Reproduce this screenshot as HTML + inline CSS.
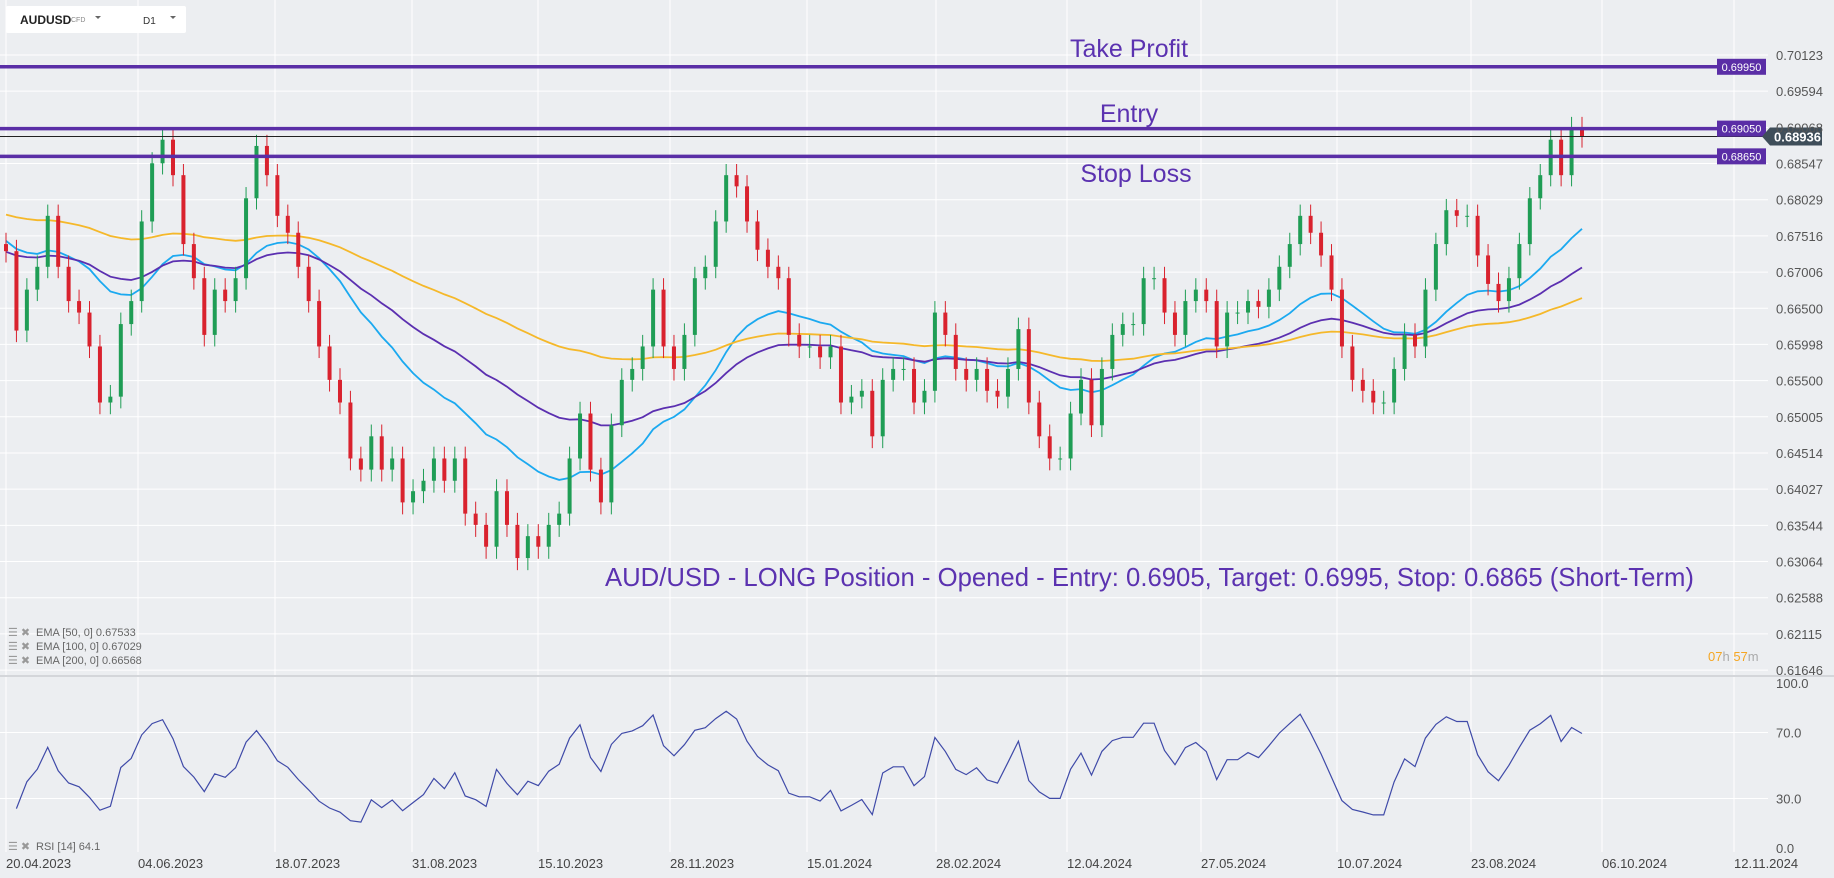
<!DOCTYPE html>
<html><head><meta charset="utf-8"><style>
body{margin:0;background:#eceef1;}
svg{display:block;font-family:"Liberation Sans",sans-serif;}
</style></head><body>
<svg id="chart" width="1834" height="878" viewBox="0 0 1834 878">
<rect x="0" y="0" width="1834" height="878" fill="#eceef1"/>
<g id="grid"></g>
<g id="ema"></g>
<g id="candles"></g>
<g id="levels"></g>
<g id="rsi"></g>
<g id="axes"></g>
<g>
<rect x="6" y="6" width="180" height="27" rx="2" fill="#fff"/>
<text x="20" y="24" font-size="12" font-weight="bold" fill="#222">AUDUSD</text>
<text x="71" y="22" font-size="7" fill="#888">CFD</text>
<path d="M95 16 l6 0 l-3 3z" fill="#666"/>
<text x="143" y="24" font-size="10" fill="#333">D1</text>
<path d="M170 16 l6 0 l-3 3z" fill="#666"/>
</g>
<text x="1129" y="57" font-size="25" fill="#5b32b0" text-anchor="middle">Take Profit</text>
<text x="1129" y="122" font-size="25" fill="#5b32b0" text-anchor="middle">Entry</text>
<text x="1136" y="182" font-size="25" fill="#5b32b0" text-anchor="middle">Stop Loss</text>
<text x="605" y="586" font-size="25.7" fill="#5b32b0">AUD/USD - LONG Position - Opened - Entry: 0.6905, Target: 0.6995, Stop: 0.6865 (Short-Term)</text>
<g font-size="11" fill="#666">
<text x="8" y="636" fill="#999">☰ ✖</text><text x="36" y="636">EMA [50, 0] 0.67533</text>
<text x="8" y="650" fill="#999">☰ ✖</text><text x="36" y="650">EMA [100, 0] 0.67029</text>
<text x="8" y="664" fill="#999">☰ ✖</text><text x="36" y="664">EMA [200, 0] 0.66568</text>
<text x="8" y="850" fill="#999">☰ ✖</text><text x="36" y="850">RSI [14] 64.1</text>
</g>
<text x="1708" y="661" font-size="13"><tspan fill="#f5a623">07</tspan><tspan fill="#aaa">h </tspan><tspan fill="#f5a623">57</tspan><tspan fill="#aaa">m</tspan></text>
</svg>
<script>
const closes=[0.6730,0.6619,0.6676,0.6708,0.6780,0.6708,0.6660,0.6644,0.6597,0.6520,0.6528,0.6628,0.6660,0.6772,0.6855,0.6889,0.6838,0.6740,0.6692,0.6613,0.6676,0.6660,0.6692,0.6805,0.6880,0.6838,0.6780,0.6756,0.6708,0.6660,0.6597,0.6551,0.6520,0.6444,0.6429,0.6474,0.6429,0.6444,0.6385,0.6400,0.6414,0.6444,0.6414,0.6444,0.6370,0.6355,0.6326,0.6400,0.6355,0.6311,0.6340,0.6326,0.6355,0.6370,0.6444,0.6505,0.6429,0.6385,0.6489,0.6551,0.6566,0.6597,0.6676,0.6597,0.6566,0.6613,0.6692,0.6708,0.6772,0.6838,0.6822,0.6772,0.6732,0.6708,0.6692,0.6613,0.6597,0.6597,0.6582,0.6597,0.6520,0.6528,0.6536,0.6474,0.6551,0.6566,0.6566,0.6520,0.6536,0.6644,0.6613,0.6566,0.6551,0.6566,0.6536,0.6528,0.6566,0.6621,0.6520,0.6474,0.6444,0.6444,0.6505,0.6551,0.6489,0.6566,0.6613,0.6628,0.6628,0.6692,0.6692,0.6644,0.6613,0.6660,0.6676,0.6660,0.6597,0.6644,0.6644,0.6660,0.6652,0.6676,0.6708,0.6740,0.6780,0.6756,0.6724,0.6676,0.6597,0.6551,0.6536,0.6520,0.6520,0.6566,0.6613,0.6597,0.6676,0.6740,0.6788,0.6780,0.6780,0.6724,0.6684,0.6660,0.6692,0.6740,0.6805,0.6838,0.6889,0.6838,0.6906,0.68936];
const emaSeed=[0.6746,0.6729,0.6783];
const emaPeriods=[21,42,83];
const rsiPeriod=6;
const rsiSeed=[0.0012,0.0016];
const priceTicks=["0.70123","0.69594","0.69068","0.68547","0.68029","0.67516","0.67006","0.66500","0.65998","0.65500","0.65005","0.64514","0.64027","0.63544","0.63064","0.62588","0.62115","0.61646"];
const rsiTicks=[100,70,30,0];
const dateLabels=["20.04.2023","04.06.2023","18.07.2023","31.08.2023","15.10.2023","28.11.2023","15.01.2024","28.02.2024","12.04.2024","27.05.2024","10.07.2024","23.08.2024","06.10.2024","12.11.2024"];
const levelValues=[0.6995,0.6905,0.6865];
const currentPrice=0.68936;

const NS="http://www.w3.org/2000/svg";
const gridX=[6,138,275,412,538,670,807,936,1067,1201,1337,1471,1602,1734];
function yP(p){return 55+Math.log(0.70123/p)*4774;}
function xI(i){return 6+i*(1582-6)/(closes.length-1);}
function yR(v){return 848-v*1.65;}
function mk(tag,attrs,parent){const e=document.createElementNS(NS,tag);for(const k in attrs)e.setAttribute(k,attrs[k]);parent.appendChild(e);return e;}
const G=id=>document.getElementById(id);

const grid=G('grid'),axes=G('axes');
priceTicks.forEach(t=>{const y=yP(+t);
 const l=mk('line',{x1:0,x2:1768,y1:y,y2:y,stroke:'#fff','stroke-width':1},grid);
 
 
 const tx=mk('text',{x:1776,y:y+5,'font-size':13,fill:'#555'},axes);tx.textContent=t;
 
 
});
rsiTicks.forEach(v=>{const y=yR(v);
 if(v>0&&v<100){const l=mk('line',{x1:0,x2:1768,y1:y,y2:y,stroke:'#fff','stroke-width':1},grid);
 
 }
 const tx=mk('text',{x:1776,y:y+5,'font-size':13,fill:'#555'},axes);tx.textContent=v.toFixed(1);
 
 
});
dateLabels.forEach((d,i)=>{const x=gridX[i];
 const l=mk('line',{x1:x,x2:x,y1:0,y2:852,stroke:'#fff','stroke-width':1},grid);
 
 
 const tx=mk('text',{x:x,y:868,'font-size':13,fill:'#444'},axes);tx.textContent=d;
 
 
});
const sep=mk('line',{x1:0,x2:1834,y1:676,y2:676,stroke:'#d4d6da','stroke-width':2},grid);



const emaColors=['#1ba9f0','#5b2fb0','#f5b82a'];
const emaNames=['ema-50-line','ema-100-line','ema-200-line'];
emaPeriods.forEach((p,k)=>{let e=emaSeed[k];const a=2/(p+1);let d='';
 closes.forEach((c,i)=>{e=a*c+(1-a)*e;d+=(i?'L':'M')+xI(i).toFixed(1)+' '+yP(e).toFixed(1);});
 const pa=mk('path',{d:d,fill:'none',stroke:emaColors[k],'stroke-width':1.8},G('ema'));
 
 
});

const cg=G('candles');
closes.forEach((c,i)=>{const o=i?closes[i-1]:c+0.001;const up=c>=o;const col=up?'#1f9d55':'#d9222e';
 const hi=Math.max(o,c)+0.0016,lo=Math.min(o,c)-0.0016;const x=xI(i);
 const g=mk('g',{},cg);
 
 
 mk('line',{x1:x,x2:x,y1:yP(hi),y2:yP(lo),stroke:col,'stroke-width':1},g);
 const y1=yP(Math.max(o,c)),y2=yP(Math.min(o,c));
 mk('rect',{x:x-2,y:y1,width:4,height:Math.max(1,y2-y1),fill:col},g);
});

const lg=G('levels');
const cy=yP(currentPrice);
const cl=mk('line',{x1:0,x2:1768,y1:cy,y2:cy,stroke:'#222','stroke-width':1},lg);


levelValues.forEach(v=>{const y=yP(v);
 const l=mk('line',{x1:0,x2:1717,y1:y,y2:y,stroke:'#5a2ea6','stroke-width':3.5},lg);
 
 
 const r=mk('rect',{x:1717,y:y-8,width:49,height:16,fill:'#5a2ea6'},lg);
 
 
 const t=mk('text',{x:1741.5,y:y+4,'font-size':11,fill:'#fff','text-anchor':'middle'},lg);t.textContent=v.toFixed(5);
 
 
});
const cp=mk('path',{d:`M1762 ${cy} L1770 ${cy-9} L1822 ${cy-9} L1822 ${cy+9} L1770 ${cy+9}Z`,fill:'#3f4e5a'},lg);


const ct=mk('text',{x:1774,y:cy+5,'font-size':13,'font-weight':'bold',fill:'#fff'},lg);ct.textContent=currentPrice.toFixed(5);



let ag=rsiSeed[0],al=rsiSeed[1],d='';
closes.forEach((c,i)=>{if(!i)return;const ch=c-closes[i-1];const g=Math.max(ch,0),l=Math.max(-ch,0);
 ag=(ag*(rsiPeriod-1)+g)/rsiPeriod;al=(al*(rsiPeriod-1)+l)/rsiPeriod;
 const r=al===0?100:100-100/(1+ag/al);d+=(d?'L':'M')+xI(i).toFixed(1)+' '+yR(r).toFixed(1);
});
const rp=mk('path',{d:d,fill:'none',stroke:'#3f4aa8','stroke-width':1.2},G('rsi'));


</script>
</body></html>
